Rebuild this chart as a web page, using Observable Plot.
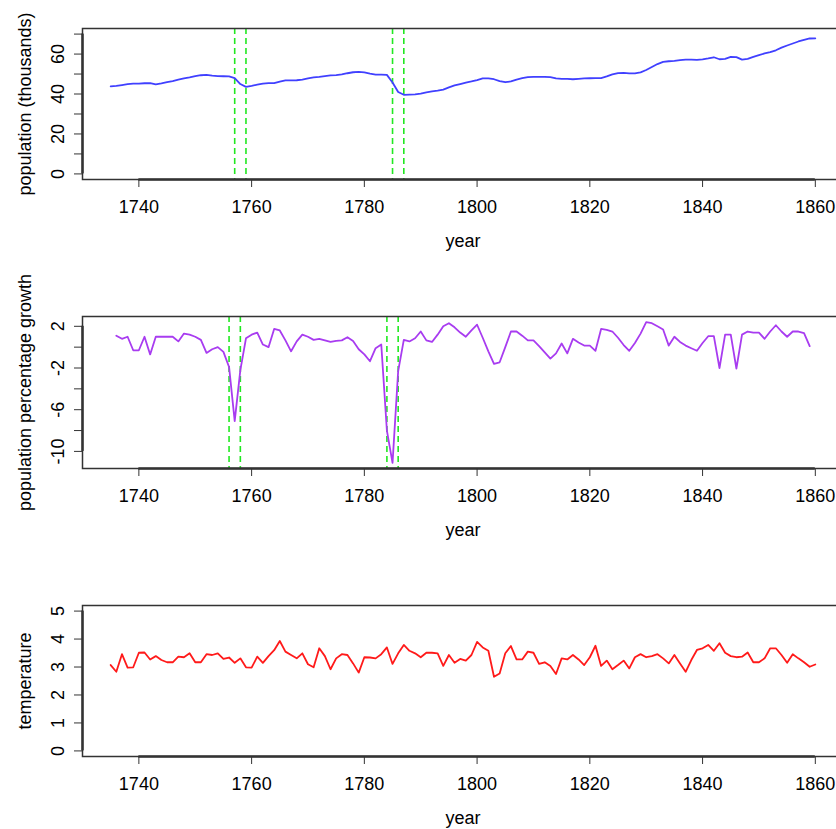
<!DOCTYPE html>
<html>
<head>
<meta charset="utf-8">
<script src="https://cdn.jsdelivr.net/npm/d3@7"></script>
<script src="https://cdn.jsdelivr.net/npm/@observablehq/plot@0.6"></script>
<style>
html, body { margin: 0; padding: 0; background: #fff; overflow: hidden; width: 836px; height: 829px; }
#chart svg { display: block; }
</style>
</head>
<body>
<div id="chart"></div>
<script>
// ---- data ----
const popYears = d3.range(1735, 1861);
const population = [
  43.8,44.1,44.5,44.9,45.2,45.2,45.4,45.5,44.8,45.3,
  45.9,46.5,47.2,47.8,48.3,48.9,49.4,49.6,49.2,49.0,
  48.9,48.8,48.0,45.0,43.6,44.1,44.7,45.2,45.5,45.5,
  46.2,46.8,46.8,46.9,47.2,47.8,48.3,48.6,49.0,49.3,
  49.5,49.8,50.4,50.9,51.1,50.8,50.2,49.7,49.7,49.6,
  45.8,41.0,39.6,39.7,39.8,40.2,40.8,41.3,41.7,42.2,
  43.3,44.3,45.0,45.7,46.3,47.0,47.8,47.8,47.4,46.5,
  45.9,46.3,47.2,47.9,48.5,48.6,48.6,48.6,48.5,47.8,
  47.6,47.6,47.4,47.6,47.8,47.9,48.0,48.0,48.8,49.8,
  50.5,50.6,50.3,50.3,50.8,52.0,53.5,55.0,56.1,56.4,
  56.6,57.0,57.2,57.2,57.1,57.3,57.8,58.4,57.4,57.6,
  58.6,58.5,57.2,57.6,58.6,59.5,60.3,61.0,61.9,63.2,
  64.3,65.3,66.3,67.1,67.8,67.9
];

const growthYears = d3.range(1736, 1860);
const growth = [
  1.1,0.8,1.0,-0.3,-0.3,1.0,-0.7,1.0,1.0,1.0,
  1.0,0.55,1.3,1.2,1.0,0.7,-0.55,-0.2,0.0,-0.45,
  -1.9,-7.1,-2.2,0.85,1.2,1.4,0.25,0.0,1.75,1.6,
  0.65,-0.4,0.55,1.2,1.0,0.7,0.8,0.65,0.5,0.6,
  0.65,0.95,0.6,-0.2,-0.7,-1.35,-0.1,0.25,-8.0,-11.1,
  -2.3,0.7,0.55,0.85,1.5,0.65,0.5,1.2,2.0,2.3,
  1.9,1.4,1.0,1.6,2.15,0.9,-0.4,-1.6,-1.45,0.0,
  1.5,1.5,1.1,0.65,0.65,0.1,-0.5,-1.1,-0.6,0.35,
  -0.6,0.8,0.45,0.15,0.15,-0.35,1.75,1.65,1.5,0.9,
  0.2,-0.35,0.4,1.3,2.4,2.3,2.0,1.7,0.15,1.0,
  0.5,0.15,-0.1,-0.35,0.4,1.05,1.05,-2.0,1.2,1.2,
  -2.05,1.2,1.5,1.4,1.4,0.8,1.5,2.1,1.5,1.0,
  1.5,1.5,1.35,0.1
];

const tempYears = d3.range(1735, 1861);
const temperature = [
  3.07,2.83,3.46,2.98,2.99,3.51,3.52,3.27,3.39,3.25,
  3.17,3.17,3.37,3.35,3.49,3.17,3.17,3.46,3.43,3.49,
  3.29,3.34,3.15,3.31,2.99,2.98,3.37,3.15,3.39,3.60,
  3.93,3.55,3.43,3.31,3.49,3.10,2.99,3.67,3.39,2.92,
  3.31,3.46,3.43,3.13,2.80,3.35,3.34,3.31,3.46,3.70,
  3.11,3.49,3.79,3.58,3.49,3.35,3.51,3.51,3.49,3.04,
  3.43,3.15,3.29,3.23,3.43,3.90,3.70,3.58,2.65,2.77,
  3.49,3.75,3.27,3.27,3.55,3.51,3.11,3.17,3.04,2.75,
  3.31,3.27,3.43,3.27,3.07,3.35,3.76,3.04,3.23,2.92,
  3.07,3.23,2.95,3.35,3.46,3.35,3.39,3.46,3.31,3.13,
  3.43,3.13,2.83,3.25,3.61,3.67,3.79,3.58,3.85,3.51,
  3.39,3.35,3.37,3.52,3.17,3.17,3.31,3.67,3.67,3.43,
  3.15,3.46,3.31,3.17,3.01,3.09
];

const popEvents = [1757, 1759, 1785, 1787];
const growthEvents = [1756, 1758, 1784, 1786];

const xTicks = [1740, 1760, 1780, 1800, 1820, 1840, 1860];
const popTicks = [0, 10, 20, 30, 40, 50, 60, 70];
const popLabels = [0, 20, 40, 60];
const growthTicks = [2, 0, -2, -4, -6, -8, -10];
const growthLabels = [2, -2, -6, -10];
const tempTicks = [0, 1, 2, 3, 4, 5];
const tempLabels = [0, 1, 2, 3, 4, 5];

// ---- drawing ----
const W = 860, ML = 82, MR = 17;
const xDomain = [1730, 1865];
const font = "'Liberation Sans', Arial, Helvetica, sans-serif";

function panel({height, mt, mb, years, values, color, yDomain, yTicks, yLabels, ylab, events}) {
  const data = years.map((year, i) => ({year, value: values[i]}));
  const marks = [];
  if (events) marks.push(Plot.ruleX(events, {stroke: "#22e822", strokeWidth: 1.6, strokeDasharray: "6,4"}));
  marks.push(
    Plot.lineY(data, {x: "year", y: "value", stroke: color, strokeWidth: 1.8}),
    Plot.frame({stroke: "#333", strokeWidth: 1.5}),
    Plot.ruleX([xDomain[0]], {y1: d3.min(yTicks), y2: d3.max(yTicks), stroke: "#333", strokeWidth: 2.5}),
    Plot.ruleY([yDomain[0]], {x1: xTicks[0], x2: xTicks[xTicks.length - 1], stroke: "#333", strokeWidth: 2.5}),
    Plot.axisX({ticks: xTicks, tickFormat: d => String(d), tickSize: 8, tickPadding: 13, label: null, stroke: "#333"}),
    Plot.axisY({ticks: yTicks, tickFormat: d => yLabels.includes(d) ? String(d) : "", tickSize: 8, tickPadding: 11, tickRotate: -90, label: null, stroke: "#333"}),
    Plot.text([ylab], {frameAnchor: "left", dx: -57, rotate: -90, textAnchor: "middle", lineAnchor: "middle", text: d => d}),
    Plot.text(["year"], {frameAnchor: "bottom", dy: 62, textAnchor: "middle", lineAnchor: "middle", text: d => d})
  );
  return Plot.plot({
    width: W, height,
    marginLeft: ML, marginRight: MR, marginTop: mt, marginBottom: mb,
    style: {fontFamily: font, fontSize: "18px", maxWidth: "none", background: "transparent", color: "#000", overflow: "visible"},
    x: {domain: xDomain},
    y: {domain: yDomain},
    marks
  });
}

const chart = document.getElementById("chart");
chart.append(panel({
  height: 276, mt: 28, mb: 97,
  years: popYears, values: population, color: "#4040ff",
  yDomain: [-2.8, 72.8], yTicks: popTicks, yLabels: popLabels,
  ylab: "population (thousands)", events: popEvents
}));
chart.append(panel({
  height: 277, mt: 40, mb: 85,
  years: growthYears, values: growth, color: "#a83cf0",
  yDomain: [-11.64, 2.94], yTicks: growthTicks, yLabels: growthLabels,
  ylab: "population percentage growth", events: growthEvents
}));
chart.append(panel({
  height: 276, mt: 52, mb: 73,
  years: tempYears, values: temperature, color: "#ff1a1a",
  yDomain: [-0.2, 5.2], yTicks: tempTicks, yLabels: tempLabels,
  ylab: "temperature", events: null
}));
</script>
</body>
</html>
